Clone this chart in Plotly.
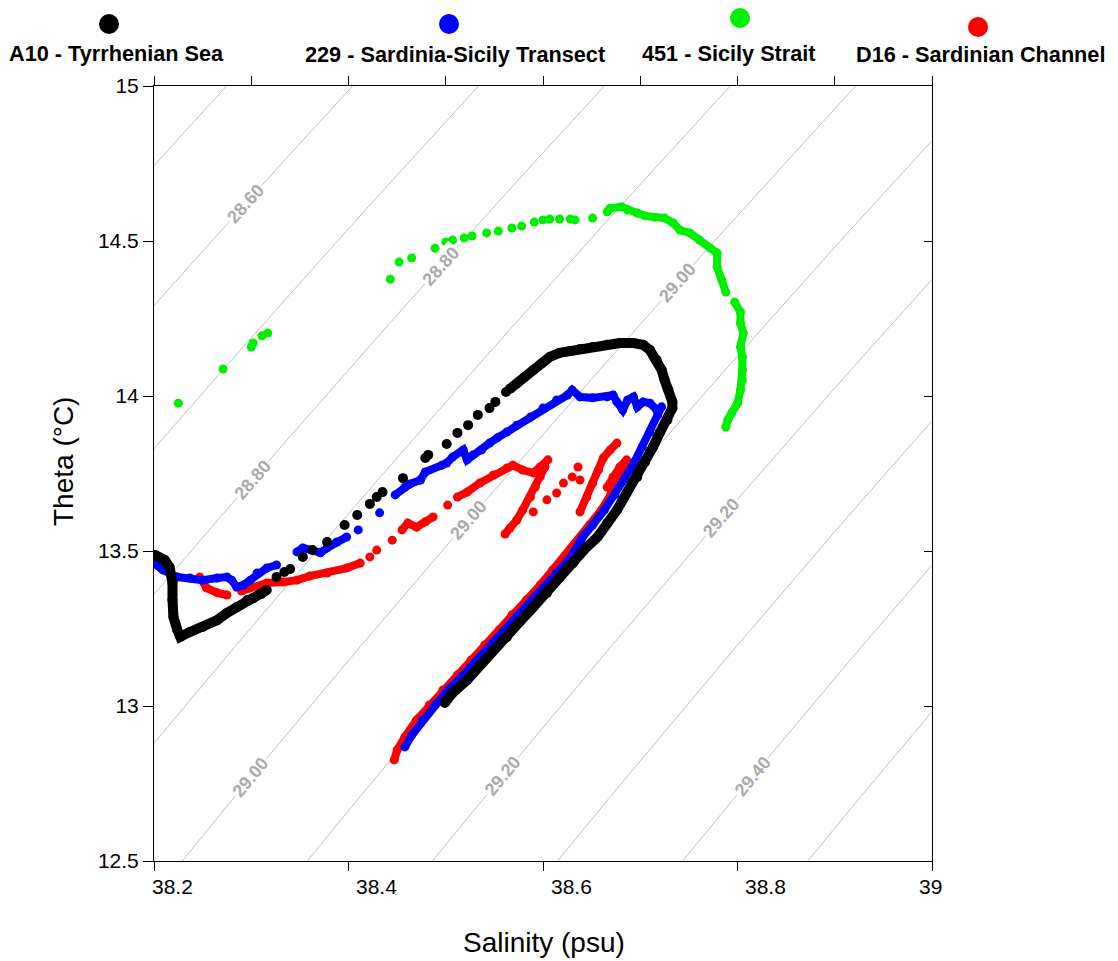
import numpy as np
import plotly.graph_objects as go

# ---------------- data (salinity psu, potential temperature degC); None = gap between runs of points
A10_SAL = [38.201, 38.211, 38.216, 38.219, 38.219, 38.220, 38.224, 38.227, 38.237, 38.250, 38.265, 38.275, 38.285, 38.296, 38.302, 38.310, 38.316, None,
           38.326, None, 38.334, None, 38.340, None, 38.353, None, 38.363, None, 38.378, None, 38.396, None, 38.409, None, 38.422, None,
           38.429, None, 38.435, None, 38.456, None, 38.479, None, 38.482, None, 38.501, None, 38.512, None, 38.523, None, 38.533, None,
           38.545, None, 38.551, None, 38.562, None,
           38.566, 38.574, 38.581, 38.590, 38.599, 38.607, 38.617, 38.628, 38.638, 38.651, 38.666, 38.679, 38.693, 38.703, 38.710,
           38.717, 38.722, 38.725, 38.729, 38.733, 38.733, 38.728, 38.720, 38.713, 38.705, 38.697, 38.686, 38.676, 38.666, 38.656,
           38.645, 38.631, 38.617, 38.604, 38.590, 38.576, 38.563, 38.549, 38.535, 38.522, 38.507, 38.499]
A10_THETA = [13.487, 13.471, 13.448, 13.397, 13.342, 13.287, 13.245, 13.223, 13.239, 13.255, 13.277, 13.300, 13.319, 13.342, 13.348, 13.361, 13.374, None,
             13.416, None, 13.432, None, 13.442, None, 13.481, None, 13.503, None, 13.529, None, 13.584, None, 13.616, None, 13.652, None,
             13.674, None, 13.690, None, 13.735, None, 13.800, None, 13.810, None, 13.845, None, 13.881, None, 13.906, None, 13.939, None,
             13.961, None, 13.981, None, 14.013, None,
             14.023, 14.042, 14.061, 14.084, 14.106, 14.126, 14.139, 14.145, 14.152, 14.158, 14.165, 14.171, 14.171, 14.165, 14.148,
             14.116, 14.084, 14.052, 14.019, 13.981, 13.961, 13.923, 13.881, 13.835, 13.787, 13.739, 13.687, 13.632, 13.590, 13.545,
             13.513, 13.461, 13.413, 13.365, 13.319, 13.271, 13.223, 13.181, 13.132, 13.084, 13.042, 13.010]

S229_SAL = [38.200, 38.209, 38.224, 38.237, 38.250, 38.265, 38.275, 38.280, 38.285, 38.292, 38.299, 38.306, 38.316, 38.326, None,
            38.347, 38.353, 38.362, 38.371, 38.378, 38.388, 38.398, None, 38.410, None, 38.432, None,
            38.448, 38.458, 38.463, 38.474, 38.479, 38.496, 38.501, 38.507, 38.518, 38.522, 38.528, 38.537, 38.545, 38.553, 38.563,
            38.573, 38.587, 38.600, 38.614, 38.625, 38.630, 38.638, 38.651, 38.666, 38.672, 38.676, 38.682, 38.687, 38.693, 38.697,
            38.703, 38.710, 38.717, 38.722,
            38.718, 38.710, 38.702, 38.694, 38.684, 38.674, 38.663, 38.651, 38.640, 38.628, 38.614, 38.601, 38.587, 38.572, 38.559,
            38.545, 38.531, 38.517, 38.502, 38.489, 38.476, 38.465, 38.458]
S229_THETA = [13.461, 13.439, 13.416, 13.413, 13.406, 13.413, 13.416, 13.406, 13.384, 13.390, 13.406, 13.429, 13.445, 13.455, None,
              13.497, 13.510, 13.503, 13.494, 13.510, 13.529, 13.545, None, 13.568, None, 13.623, None,
              13.681, 13.706, 13.716, 13.729, 13.755, 13.777, 13.784, 13.803, 13.826, 13.794, 13.810, 13.826, 13.848, 13.865, 13.884,
              13.906, 13.932, 13.961, 13.987, 14.003, 14.019, 13.997, 13.994, 13.997, 14.003, 13.981, 13.955, 13.987, 13.997, 13.965,
              13.981, 13.977, 13.955, 13.965,
              13.939, 13.884, 13.835, 13.787, 13.735, 13.681, 13.632, 13.584, 13.542, 13.477, 13.429, 13.381, 13.332, 13.284, 13.235,
              13.190, 13.142, 13.097, 13.052, 13.003, 12.955, 12.906, 12.868]

S451_SAL = [38.225, None, 38.271, None, 38.300, None, 38.302, None, 38.311, None, 38.317, None, 38.443, None, 38.452, None,
            38.465, None, 38.489, None, 38.500, None, 38.507, None, 38.519, None, 38.527, None, 38.542, None, 38.554, None,
            38.568, None, 38.578, None, 38.591, None, 38.600, None, 38.607, None, 38.617, None, 38.628, None, 38.633, None,
            38.651, None,
            38.666, 38.669, 38.681, 38.687, 38.697, 38.705, 38.715, 38.725, 38.734, 38.741, 38.751, 38.761, 38.772, 38.779,
            38.779, 38.784, 38.788, None,
            38.797, 38.803, 38.803, 38.806, 38.803, 38.805, 38.805, 38.805, 38.803, 38.800, 38.794, 38.790, 38.788]
S451_THETA = [13.977, None, 14.087, None, 14.158, None, 14.171, None, 14.194, None, 14.203, None, 14.377, None, 14.432, None,
              14.445, None, 14.477, None, 14.497, None, 14.503, None, 14.510, None, 14.516, None, 14.526, None, 14.532, None,
              14.542, None, 14.548, None, 14.561, None, 14.568, None, 14.571, None, 14.571, None, 14.571, None, 14.568, None,
              14.574, None,
              14.594, 14.606, 14.610, 14.600, 14.590, 14.581, 14.577, 14.574, 14.558, 14.535, 14.526, 14.503, 14.477, 14.461,
              14.416, 14.374, 14.335, None,
              14.303, 14.271, 14.235, 14.203, 14.158, 14.126, 14.084, 14.052, 14.019, 13.977, 13.945, 13.923, 13.900]

D16_SAL = [38.201, 38.208, None, 38.247, 38.254, 38.265, 38.275, None,
           38.290, 38.299, 38.316, 38.333, 38.347, 38.360, 38.378, 38.398, 38.412, None, 38.422, None, 38.429, None, 38.445, None,
           38.455, 38.461, 38.470, 38.479, 38.487, None, 38.502, None,
           38.512, 38.522, 38.535, 38.549, 38.563, 38.569, 38.579, 38.590, 38.597, 38.605, None,
           38.602, 38.597, 38.592, 38.587, 38.579, 38.573, 38.566, 38.561, None, 38.590, None, 38.604, None,
           38.614, None, 38.621, None, 38.630, None, 38.636, None, 38.638, None,
           38.638, 38.645, 38.651, 38.657, 38.662, 38.669, 38.676, None,
           38.666, 38.672, 38.679, 38.686, None,
           38.686, 38.679, 38.670, 38.660, 38.648, 38.636, 38.624, 38.610, 38.597, 38.583, 38.568, 38.555, 38.540, 38.526,
           38.512, 38.497, 38.483, 38.470, 38.458, 38.450, 38.447]
D16_THETA = [13.465, 13.455, None, 13.416, 13.381, 13.365, 13.358, None,
             13.371, 13.381, 13.397, 13.400, 13.406, 13.419, 13.429, 13.445, 13.461, None, 13.481, None, 13.503, None, 13.535, None,
             13.568, 13.590, 13.577, 13.594, 13.610, None, 13.648, None,
             13.674, 13.690, 13.719, 13.745, 13.768, 13.777, 13.761, 13.752, 13.771, 13.794, None,
             13.771, 13.739, 13.706, 13.674, 13.632, 13.600, 13.574, 13.555, None, 13.626, None, 13.665, None,
             13.687, None, 13.719, None, 13.739, None, 13.771, None, 13.729, None,
             13.626, 13.674, 13.719, 13.761, 13.800, 13.826, 13.848, None,
             13.706, 13.739, 13.771, 13.794, None,
             13.787, 13.735, 13.684, 13.632, 13.584, 13.535, 13.487, 13.439, 13.390, 13.342, 13.294, 13.245, 13.197, 13.148,
             13.100, 13.052, 13.003, 12.955, 12.900, 12.858, 12.826]

SERIES_NAMES = ["A10 - Tyrrhenian Sea", "229 - Sardinia-Sicily Transect", "451 - Sicily Strait", "D16 - Sardinian Channel"]
SERIES_COLORS = ["#000000", "#0000ff", "#00ee00", "#ff0000"]

X_TICKS = [38.2, 38.4, 38.6, 38.8, 39.0]
X_TICK_TEXT = ["38.2", "38.4", "38.6", "38.8", "39"]
X_MINOR_TICKS = [38.2, 38.3, 38.4, 38.5, 38.6, 38.7, 38.8, 38.9, 39.0]
Y_TICKS = [12.5, 13.0, 13.5, 14.0, 14.5, 15.0]
Y_TICK_TEXT = ["12.5", "13", "13.5", "14", "14.5", "15"]

# isopycnal (sigma-theta) levels drawn in the background
ISOPYCNAL_LEVELS = [28.0, 28.1, 28.2, 28.3, 28.4, 28.5, 28.6, 28.7, 28.8, 28.9, 29.0,
                    29.1, 29.2, 29.3, 29.4, 29.5, 29.6, 29.7, 29.8, 29.9]
# isopycnal labels: sigma-theta level and the theta at which the label sits
LABEL_LEVELS = [28.6, 28.8, 29.0, 28.8, 29.0, 29.2, 29.0, 29.2, 29.4]
LABEL_THETA = [14.62, 14.42, 14.365, 13.73, 13.60, 13.606, 12.77, 12.775, 12.775]

# ---------------- layout geometry
W, H = 1118, 961
PL, PR, PT, PB = 154, 932, 86, 861
XR = [38.2, 39.0]
YR = [12.5, 15.0]
FONT = "Arial, 'Liberation Sans', sans-serif"
X_LABEL_SHIFT_PX = [18, 28, 28, 28, -2]   # horizontal offsets of the bottom tick labels, as drawn in the original


def sigma0(S, T):
    rw = (999.842594 + 6.793952e-2 * T - 9.095290e-3 * T**2 + 1.001685e-4 * T**3
          - 1.120083e-6 * T**4 + 6.536332e-9 * T**5)
    A = 8.24493e-1 - 4.0899e-3 * T + 7.6438e-5 * T**2 - 8.2467e-7 * T**3 + 5.3875e-9 * T**4
    B = -5.72466e-3 + 1.0227e-4 * T - 1.6546e-6 * T**2
    C = 4.8314e-4
    return rw + A * S + B * S**1.5 + C * S**2 - 1000.0


def solve_s(level, T):
    T = np.asarray(T, dtype=float)
    lo = np.full_like(T, 36.0)
    hi = np.full_like(T, 41.0)
    for _ in range(60):
        mid = 0.5 * (lo + hi)
        below = sigma0(mid, T) < level
        lo = np.where(below, mid, lo)
        hi = np.where(below, hi, mid)
    return 0.5 * (lo + hi)


def px_x(p):
    return (p - PL) / (PR - PL)


def px_y(p):
    return (PB - p) / (PB - PT)


fig = go.Figure()

# isopycnal background lines
t_line = np.linspace(12.3, 15.2, 40)
for lev in ISOPYCNAL_LEVELS:
    s_line = solve_s(lev, t_line)
    fig.add_trace(go.Scatter(x=s_line, y=t_line, mode="lines", showlegend=False, hoverinfo="skip",
                             line=dict(color="#c0c0c0", width=1)))


def series_trace(sal, th, color, size, width):
    return go.Scatter(x=sal, y=th, mode="lines+markers", connectgaps=False, showlegend=False,
                      line=dict(color=color, width=width),
                      marker=dict(color=color, size=size, line=dict(width=0)))


fig.add_trace(series_trace(D16_SAL, D16_THETA, SERIES_COLORS[3], 9, 8))
fig.add_trace(series_trace(S229_SAL, S229_THETA, SERIES_COLORS[1], 9, 8))
fig.add_trace(series_trace(S451_SAL, S451_THETA, SERIES_COLORS[2], 9, 8))
fig.add_trace(series_trace(A10_SAL, A10_THETA, SERIES_COLORS[0], 10, 10))

# invisible trace so the frame axes (top / right) are drawn
fig.add_trace(go.Scatter(x=[38.5], y=[13.5], xaxis="x2", yaxis="y2", mode="markers",
                         marker=dict(opacity=0), showlegend=False, hoverinfo="skip"))

annotations = []
# isopycnal labels
ratio = ((PB - PT) / (YR[1] - YR[0])) / ((PR - PL) / (XR[1] - XR[0]))
for lev, th in zip(LABEL_LEVELS, LABEL_THETA):
    s = float(solve_s(lev, th))
    d = 1e-4
    dsds = (sigma0(s + d, th) - sigma0(s - d, th)) / (2 * d)
    dsdt = (sigma0(s, th + d) - sigma0(s, th - d)) / (2 * d)
    slope = -dsds / dsdt * ratio
    ang = float(-np.degrees(np.arctan(slope)))
    annotations.append(dict(x=s, y=th, xref="x", yref="y", text=f"<b>{lev:.2f}</b>", showarrow=False,
                            textangle=ang, bgcolor="white", borderpad=1,
                            font=dict(family=FONT, size=18, color="#aaaaaa")))

# legend (marker above label)
LEG_TEXT_PX = [(116, 53), (455, 55), (729, 53), (980, 55)]
LEG_MARK_PX = [(109, 24), (449, 24), (740, 18), (978, 27)]
shapes = []
for name, col, (tx, ty), (mx, my) in zip(SERIES_NAMES, SERIES_COLORS, LEG_TEXT_PX, LEG_MARK_PX):
    annotations.append(dict(x=px_x(tx), y=px_y(ty), xref="paper", yref="paper", text=f"<b>{name}</b>",
                            showarrow=False, xanchor="center", yanchor="middle",
                            font=dict(family=FONT, size=21.7, color="black")))
    shapes.append(dict(type="circle", xref="paper", yref="paper", xsizemode="pixel", ysizemode="pixel",
                       xanchor=px_x(mx), yanchor=px_y(my), x0=-10, x1=10, y0=-10, y1=10,
                       fillcolor=col, line=dict(width=0)))

# bottom tick labels
for v, t, sh in zip(X_TICKS, X_TICK_TEXT, X_LABEL_SHIFT_PX):
    annotations.append(dict(x=v, y=px_y(887), xref="x", yref="paper", text=t, showarrow=False,
                            xanchor="center", yanchor="middle", xshift=sh,
                            font=dict(family=FONT, size=21, color="black")))

# axis titles
annotations.append(dict(x=px_x(64), y=px_y(462), xref="paper", yref="paper", text="Theta (°C)",
                        showarrow=False, textangle=-90, xanchor="center", yanchor="middle",
                        font=dict(family=FONT, size=28, color="black")))
annotations.append(dict(x=px_x(544), y=px_y(942), xref="paper", yref="paper", text="Salinity (psu)",
                        showarrow=False, xanchor="center", yanchor="middle",
                        font=dict(family=FONT, size=28, color="black")))

fig.update_layout(
    width=W, height=H,
    margin=dict(l=PL, r=W - PR, t=PT, b=H - PB, pad=0),
    paper_bgcolor="white", plot_bgcolor="white",
    font=dict(family=FONT, color="black"),
    showlegend=False,
    annotations=annotations, shapes=shapes,
    xaxis=dict(range=XR, tickvals=X_TICKS, showticklabels=False, ticks="outside", ticklen=9, tickwidth=1,
               tickcolor="black", showline=True, linecolor="black", linewidth=1, showgrid=False, zeroline=False,
               automargin=False),
    yaxis=dict(range=YR, tickvals=Y_TICKS, ticktext=Y_TICK_TEXT, ticks="outside", ticklen=10, tickwidth=1,
               tickcolor="black", showline=True, linecolor="black", linewidth=1, showgrid=False, zeroline=False,
               tickfont=dict(size=21, family=FONT), automargin=False),
    xaxis2=dict(range=XR, overlaying="x", side="top", tickvals=X_MINOR_TICKS, showticklabels=False,
                ticks="outside", ticklen=9, tickcolor="black", showline=True, linecolor="black", linewidth=1,
                showgrid=False, zeroline=False, automargin=False),
    yaxis2=dict(range=YR, overlaying="y", side="right", tickvals=Y_TICKS[1:-1], showticklabels=False,
                ticks="inside", ticklen=8, tickcolor="black", showline=True, linecolor="black", linewidth=1,
                showgrid=False, zeroline=False, automargin=False),
)

fig.write_html("out.html")
